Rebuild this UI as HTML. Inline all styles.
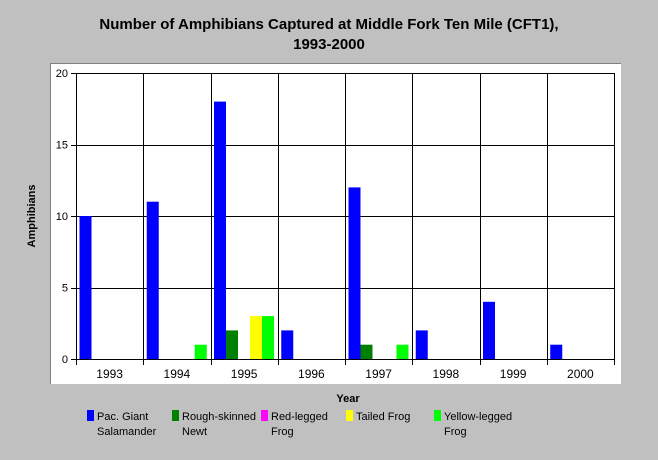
<!DOCTYPE html>
<html><head><meta charset="utf-8"><style>
body{margin:0;background:#c0c0c0;font-family:"Liberation Sans",Arial,sans-serif;}
svg text{font-family:"Liberation Sans",Arial,sans-serif;}
</style></head><body>
<svg width="658" height="455" xmlns="http://www.w3.org/2000/svg">
<rect x="0" y="0" width="658" height="455" fill="#c0c0c0"/>
<text x="329" y="29" text-anchor="middle" font-size="15" font-weight="bold">Number of Amphibians Captured at Middle Fork Ten Mile (CFT1),</text>
<text x="329" y="49" text-anchor="middle" font-size="15" font-weight="bold">1993-2000</text>
<rect x="50" y="63" width="571" height="321" fill="#fff"/>
<line x1="50" y1="63.5" x2="621" y2="63.5" stroke="#808080"/>
<line x1="50.5" y1="63" x2="50.5" y2="384" stroke="#808080"/>
<g id="grid"></g><g id="bars"></g><g id="axes"></g>
<text x="348" y="402" text-anchor="middle" font-size="11" font-weight="bold">Year</text>
<text transform="translate(35,216) rotate(-90)" text-anchor="middle" font-size="11" font-weight="bold">Amphibians</text>
<g id="legend"></g>
</svg>
<script>
const years=["1993","1994","1995","1996","1997","1998","1999","2000"];
const pacGiant=[10,11,18,2,12,2,4,1];
const roughNewt=[0,0,2,0,1,0,0,0];
const redLegged=[0,0,0,0,0,0,0,0];
const tailedFrog=[0,0,3,0,0,0,0,0];
const yellowLegged=[0,1,3,0,1,0,0,0];
const yTicks=[0,5,10,15,20];
const seriesNames=[["Pac. Giant","Salamander"],["Rough-skinned","Newt"],["Red-legged","Frog"],["Tailed Frog"],["Yellow-legged","Frog"]];
const series=[pacGiant,roughNewt,redLegged,tailedFrog,yellowLegged];
const colors=["#0000ff","#008000","#ff00ff","#ffff00","#00ff00"];
const NS="http://www.w3.org/2000/svg";
const X0=76,X1=614,Y0=359,Y1=73,YMAX=20;
const gw=(X1-X0)/years.length;
const y=v=>Y0-(v/YMAX)*(Y0-Y1);
const xg=i=>X0+i*gw;
function mk(t,a,p){const e=document.createElementNS(NS,t);for(const k in a)e.setAttribute(k,a[k]);p.appendChild(e);return e;}
const grid=document.getElementById('grid'),bars=document.getElementById('bars'),axes=document.getElementById('axes'),legend=document.getElementById('legend');
yTicks.forEach(t=>{
 const l=mk('line',{x1:X0-5,x2:X1,y1:Math.round(y(t))+0.5,y2:Math.round(y(t))+0.5,stroke:'#000'},grid);
 
 
 const tx=mk('text',{x:X0-8,y:y(t)+4,'text-anchor':'end','font-size':'11'},axes);
 tx.textContent=t;
 
 
});
for(let i=0;i<=years.length;i++){
 const l=mk('line',{x1:Math.round(xg(i))+0.5,x2:Math.round(xg(i))+0.5,y1:Y1,y2:Y0+6,stroke:'#000'},grid);
 
 
}
const bw=12,off=3.5;
years.forEach((yr,i)=>{
 series.forEach((s,j)=>{
  const v=s[i]; if(!v)return;
  const r=mk('rect',{x:xg(i)+off+j*bw,y:y(v),width:bw,height:Y0-y(v),fill:colors[j]},bars);
  
  
 });
 const tx=mk('text',{x:xg(i)+gw/2,y:Y0+19,'text-anchor':'middle','font-size':'12'},axes);
 tx.textContent=yr;
 
 
});
const la=mk('line',{x1:X0,x2:X1,y1:Y0+0.5,y2:Y0+0.5,stroke:'#000'},axes);


const lx=[87,172,261,346,434];
seriesNames.forEach((n,j)=>{
 const g=mk('g',{},legend);
 
 
 mk('rect',{x:lx[j],y:410,width:7,height:11,fill:colors[j]},g);
 n.forEach((line,k)=>{const t=mk('text',{x:lx[j]+10,y:420+k*15,'font-size':'11'},g);t.textContent=line;});
});
</script>
</body></html>
